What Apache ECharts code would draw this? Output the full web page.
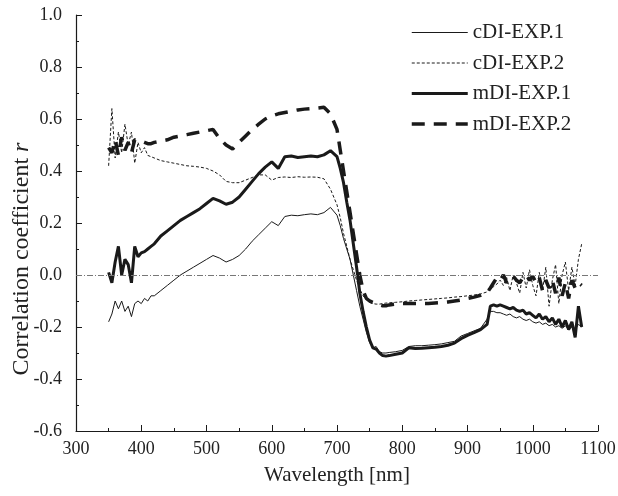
<!DOCTYPE html>
<html>
<head>
<meta charset="utf-8">
<script src="https://cdn.jsdelivr.net/npm/echarts@6/dist/echarts.min.js"></script>
<style>
  html, body { margin: 0; padding: 0; background: #fff; }
  #chart { width: 618px; height: 496px; }
</style>
</head>
<body>
<div id="chart"></div>
<script>
// wavelength grid (nm)
const wavelength = [
  350, 355, 360, 365, 370, 375, 380, 385, 390, 395, 400, 405, 410, 415, 420,
  430, 440, 450, 460, 470, 480, 490, 500, 510, 520, 530, 540, 550, 560, 570,
  580, 590, 600, 610, 620, 630, 640, 650, 660, 670, 680, 690, 700,
  705, 710, 715, 720, 725, 730, 735, 740, 745, 750, 755, 760, 765, 770, 775, 780,
  790, 800, 810, 820, 830, 840, 850, 860, 870, 880, 890, 900, 910, 920, 930,
  935, 940, 945, 950, 955, 960, 965, 970, 975, 980, 985, 990, 995, 1000, 1005,
  1010, 1015, 1020, 1025, 1030, 1035, 1040, 1045, 1050, 1055, 1060, 1065, 1070, 1075
];

const cDI1 = [
  -0.18, -0.15, -0.10, -0.13, -0.10, -0.14, -0.12, -0.16, -0.11, -0.10, -0.11, -0.09, -0.10, -0.08, -0.08,
  -0.06, -0.04, -0.02, 0.00, 0.015, 0.03, 0.045, 0.06, 0.075, 0.065, 0.05, 0.06, 0.075, 0.10, 0.13,
  0.155, 0.18, 0.205, 0.19, 0.225, 0.23, 0.228, 0.232, 0.235, 0.232, 0.24, 0.26, 0.23,
  0.19, 0.14, 0.10, 0.06, 0.00, -0.06, -0.12, -0.17, -0.22, -0.26, -0.28, -0.275, -0.295, -0.30, -0.30, -0.298,
  -0.295, -0.29, -0.275, -0.272, -0.272, -0.27, -0.268, -0.265, -0.26, -0.255, -0.235, -0.225, -0.215, -0.205, -0.17,
  -0.14, -0.14, -0.145, -0.145, -0.15, -0.155, -0.15, -0.16, -0.165, -0.16, -0.17, -0.175, -0.17, -0.18, -0.185,
  -0.18, -0.19, -0.185, -0.195, -0.19, -0.20, -0.195, -0.205, -0.195, -0.21, -0.20, -0.21, -0.19, -0.20
];

const cDI2 = [
  0.42, 0.64, 0.45, 0.55, 0.47, 0.58, 0.50, 0.55, 0.43, 0.51, 0.47, 0.49, 0.46, 0.455, 0.45,
  0.44, 0.435, 0.43, 0.425, 0.42, 0.418, 0.415, 0.41, 0.40, 0.385, 0.36, 0.355, 0.355, 0.365, 0.375,
  0.385, 0.385, 0.365, 0.375, 0.377, 0.375, 0.378, 0.376, 0.377, 0.376, 0.37, 0.33, 0.27,
  0.22, 0.16, 0.11, 0.06, 0.02, -0.02, -0.055, -0.08, -0.095, -0.105, -0.11, -0.112, -0.112, -0.11, -0.108, -0.107,
  -0.105, -0.103, -0.10, -0.098, -0.096, -0.094, -0.092, -0.09, -0.088, -0.085, -0.083, -0.08, -0.077, -0.073, -0.065,
  -0.05, -0.045, -0.035, -0.02, -0.04, -0.01, -0.06, 0.00, -0.03, -0.07, 0.01, -0.05, 0.02, -0.04, -0.08,
  0.01, -0.06, 0.03, -0.12, -0.02, 0.04, -0.11, 0.00, 0.05, -0.06, 0.03, -0.04, 0.06, 0.12
];

const mDI1 = [
  0.01, -0.03, 0.05, 0.11, 0.00, 0.06, 0.04, -0.03, 0.11, 0.07, 0.085, 0.09, 0.10, 0.11, 0.12,
  0.15, 0.17, 0.19, 0.21, 0.225, 0.24, 0.255, 0.275, 0.295, 0.285, 0.272, 0.28, 0.30, 0.33, 0.36,
  0.39, 0.415, 0.435, 0.41, 0.455, 0.458, 0.452, 0.455, 0.458, 0.455, 0.462, 0.478, 0.455,
  0.41, 0.355, 0.28, 0.21, 0.12, 0.03, -0.07, -0.14, -0.20, -0.25, -0.28, -0.285, -0.30, -0.31, -0.312, -0.31,
  -0.305, -0.30, -0.28, -0.283, -0.282, -0.28, -0.278, -0.275, -0.27, -0.262, -0.245, -0.232, -0.222, -0.21, -0.19,
  -0.12, -0.115, -0.12, -0.115, -0.12, -0.125, -0.13, -0.125, -0.135, -0.14, -0.135, -0.15, -0.145, -0.155, -0.165,
  -0.15, -0.17, -0.16, -0.18, -0.165, -0.19, -0.17, -0.20, -0.175, -0.21, -0.18, -0.24, -0.12, -0.20
];

const mDI2 = [
  0.49, 0.47, 0.52, 0.46, 0.53, 0.48, 0.51, 0.47, 0.52, 0.52, 0.515, 0.51, 0.505, 0.505, 0.51,
  0.515, 0.52, 0.53, 0.535, 0.54, 0.545, 0.55, 0.555, 0.56, 0.525, 0.50, 0.485, 0.51, 0.535, 0.56,
  0.58, 0.60, 0.612, 0.62, 0.625, 0.63, 0.635, 0.638, 0.64, 0.642, 0.645, 0.62, 0.56,
  0.48, 0.40, 0.32, 0.24, 0.16, 0.08, 0.00, -0.06, -0.09, -0.10, -0.105, -0.11, -0.115, -0.118, -0.118, -0.115,
  -0.112, -0.11, -0.11, -0.11, -0.11, -0.11, -0.108, -0.106, -0.104, -0.10, -0.096, -0.09, -0.085, -0.078, -0.068,
  -0.05, -0.03, -0.01, -0.02, 0.00, -0.03, -0.01, -0.005, -0.02, -0.03, -0.01, 0.00, -0.02, -0.005, -0.03,
  -0.01, -0.06, -0.02, -0.05, -0.02, -0.07, -0.01, -0.08, -0.03, -0.09, -0.02, -0.05, -0.03, -0.04
];

const seriesNames = ['cDI-EXP.1', 'cDI-EXP.2', 'mDI-EXP.1', 'mDI-EXP.2'];

const FONT = '"Liberation Serif", "DejaVu Serif", serif';
const INK = '#1a1a1a';
// line looks, in the same order as seriesNames
const widths = [1, 1, 3, 3.5];
const dashes = ['solid', [3, 2], 'solid', [13, 9]];

const chart = echarts.init(document.getElementById('chart'));

function pairs(values) {
  return wavelength.map((w, i) => [w, values[i]]);
}

const series = [cDI1, cDI2, mDI1, mDI2].map((values, i) => ({
  name: seriesNames[i],
  type: 'line',
  data: pairs(values),
  symbol: 'none',
  color: INK,
  z: widths[i] > 2 ? 4 : 3,
  animation: false,
  lineStyle: { color: INK, width: widths[i], type: dashes[i] }
}));

// zero reference line
series[0].markLine = {
  silent: true,
  symbol: 'none',
  label: { show: false },
  lineStyle: { color: '#777', width: 1, type: [6, 2, 1, 2] },
  data: [{ yAxis: 0 }]
};

const option = {
  backgroundColor: '#fff',
  animation: false,
  grid: { left: 76, right: 20, top: 15, bottom: 65, outerBoundsMode: 'none' },
  legend: {
    orient: 'vertical',
    left: 410,
    top: 22,
    padding: 0,
    itemWidth: 56,
    itemHeight: 20,
    itemGap: 9.5,
    itemStyle: { opacity: 0 },
    data: seriesNames.map((name, i) => ({
      name: name,
      lineStyle: { color: INK, width: widths[i], type: dashes[i] }
    })),
    textStyle: { fontFamily: FONT, fontSize: 21, color: '#222' }
  },
  xAxis: {
    type: 'value',
    min: 300,
    max: 1100,
    interval: 100,
    name: 'Wavelength [nm]',
    nameLocation: 'middle',
    nameGap: 34,
    nameTextStyle: { fontFamily: FONT, fontSize: 21, color: '#222' },
    axisLine: { onZero: false, lineStyle: { color: INK, width: 1.2 } },
    axisTick: { inside: true, length: 6, lineStyle: { color: INK } },
    minorTick: { show: true, splitNumber: 2, length: 3, lineStyle: { color: INK } },
    axisLabel: {
      fontFamily: FONT, fontSize: 18, color: '#222', margin: 9,
      formatter: v => String(v)
    },
    splitLine: { show: false }
  },
  yAxis: {
    type: 'value',
    min: -0.6,
    max: 1.0,
    interval: 0.2,
    name: '{n|Correlation coefficient }{i|r}',
    nameLocation: 'middle',
    nameGap: 42,
    nameMoveOverlap: false,
    nameTextStyle: {
      padding: [0, 72, 0, 0],
      rich: {
        n: { fontFamily: FONT, fontSize: 24, color: '#222' },
        i: { fontFamily: FONT, fontSize: 24, color: '#222', fontStyle: 'italic' }
      }
    },
    axisLine: { show: true, lineStyle: { color: INK, width: 1.2 } },
    axisTick: { show: true, inside: true, length: 6, lineStyle: { color: INK } },
    minorTick: { show: true, splitNumber: 2, length: 3, lineStyle: { color: INK } },
    axisLabel: {
      fontFamily: FONT, fontSize: 18, color: '#222', margin: 14,
      formatter: v => v.toFixed(1)
    },
    splitLine: { show: false }
  },
  series: series
};

chart.setOption(option);
</script>
</body>
</html>
